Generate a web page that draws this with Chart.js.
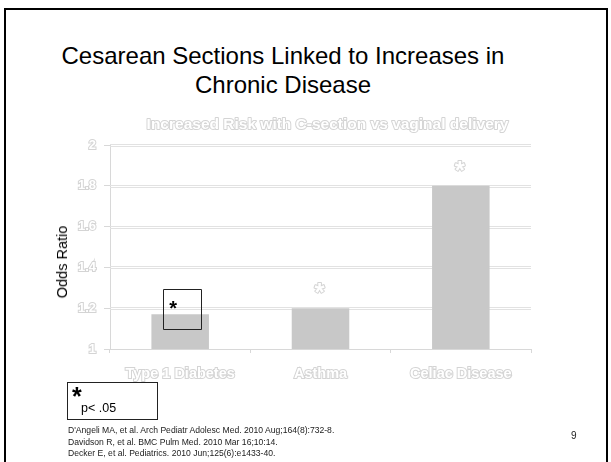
<!DOCTYPE html>
<html>
<head>
<meta charset="utf-8">
<script src="https://cdn.jsdelivr.net/npm/chart.js@4/dist/chart.umd.min.js"></script>
<style>
  html, body { margin: 0; padding: 0; background: #fff; }
  body { width: 611px; height: 462px; overflow: hidden; position: relative;
         font-family: "Liberation Sans", Arial, sans-serif; color: #000; }
  #frame { position: absolute; left: 4px; top: 8px; width: 600px; height: 470px;
           border: 2px solid #000; }
  #slideTitle { position: absolute; left: 33px; width: 500px; top: 41px; text-align: center;
                font-size: 24px; line-height: 29px; color: #000; }
  #chartWrap { position: absolute; left: 0; top: 0; width: 611px; height: 462px; }
  #yTitle { position: absolute; left: 62px; top: 262px; transform: translate(-50%, -50%) rotate(-90deg);
            font-size: 14.5px; font-weight: normal; color: #000; white-space: nowrap; }
  #note { position: absolute; left: 67px; top: 382px; width: 89px; height: 36px;
          border: 1px solid #222; }
  #note .star { position: absolute; left: 4px; top: 2px; font-size: 25px; line-height: 22px; font-weight: bold; }
  #note .p { position: absolute; left: 13px; top: 18px; font-size: 12.5px; line-height: 14px; }
  #refs { position: absolute; left: 68px; top: 425px; font-size: 8.6px; line-height: 11.5px; color: #222; }
  #pageNo { position: absolute; left: 571px; top: 430px; font-size: 10px; color: #222; }
</style>
</head>
<body>
<div id="frame"></div>
<div id="slideTitle">Cesarean Sections Linked to Increases in<br>Chronic Disease</div>
<div id="chartWrap"><canvas id="c" width="611" height="462"></canvas></div>
<div id="yTitle">Odds Ratio</div>
<div id="note"><span class="star">*</span><span class="p">p&lt; .05</span></div>
<div id="refs">
  D'Angeli MA, et al. Arch Pediatr Adolesc Med. 2010 Aug;164(8):732-8.<br>
  Davidson R, et al. BMC Pulm Med. 2010 Mar 16;10:14.<br>
  Decker E, et al. Pediatrics. 2010 Jun;125(6):e1433-40.
</div>
<div id="pageNo">9</div>

<script>
// Odds ratios for C-section vs vaginal delivery
const categories = ['Type 1 Diabetes', 'Asthma', 'Celiac Disease'];
const oddsRatios = [1.17, 1.2, 1.8];
// how each significance marker is shown: boxed black asterisk or faint star
const markerStyle = ['boxed', 'faint', 'faint'];
const yTickValues = [1, 1.2, 1.4, 1.6, 1.8, 2];
const chartTitle = 'Increased Risk with C-section vs vaginal delivery';

const ghostFill = '#ffffff';
const ghostStroke = '#d4d4d4';

const overlay = {
  id: 'overlay',
  beforeDatasetsDraw(chart) {
    const { ctx, chartArea, scales } = chart;
    ctx.save();
    // paired horizontal rules
    ctx.strokeStyle = '#e2e2e2';
    ctx.lineWidth = 1;
    yTickValues.forEach(v => {
      const y = Math.round(scales.y.getPixelForValue(v));
      if (v === yTickValues[0]) return;
      [y - 0.5, y + 1.5].forEach(yy => {
        ctx.beginPath();
        ctx.moveTo(chartArea.left, yy);
        ctx.lineTo(chartArea.right, yy);
        ctx.stroke();
      });
    });
    ctx.restore();
  },
  afterDatasetsDraw(chart) {
    const { ctx, chartArea } = chart;
    const meta = chart.getDatasetMeta(0);
    ctx.save();
    // chart heading
    ctx.font = 'bold 15.5px "Liberation Sans", Arial, sans-serif';
    ctx.textAlign = 'center';
    ctx.textBaseline = 'middle';
    ctx.lineJoin = 'round';
    ctx.lineWidth = 2;
    ctx.strokeStyle = ghostStroke;
    ctx.fillStyle = ghostFill;
    const cx = (chartArea.left + chartArea.right) / 2 + 7;
    ctx.strokeText(chartTitle, cx, chartArea.top - 20);
    ctx.fillText(chartTitle, cx, chartArea.top - 20);

    // significance markers
    meta.data.forEach((bar, i) => {
      const x = bar.x, top = bar.y;
      if (markerStyle[i] === 'boxed') {
        ctx.strokeStyle = '#222';
        ctx.lineWidth = 1;
        ctx.strokeRect(Math.round(x - 17) + 0.5, Math.round(top - 25) + 0.5, 38, 40);
        ctx.fillStyle = '#000';
        ctx.font = 'bold 20px "Liberation Sans", Arial, sans-serif';
        ctx.textAlign = 'center';
        ctx.textBaseline = 'middle';
        ctx.fillText('*', x - 7, top - 5);
      } else {
        ctx.font = 'bold 26px "Liberation Sans", Arial, sans-serif';
        ctx.textAlign = 'center';
        ctx.textBaseline = 'middle';
        ctx.lineWidth = 2;
        ctx.strokeStyle = ghostStroke;
        ctx.fillStyle = ghostFill;
        ctx.strokeText('*', x - 1, top - 14);
        ctx.fillText('*', x - 1, top - 14);
      }
    });
    ctx.restore();
  }
};

new Chart(document.getElementById('c'), {
  type: 'bar',
  data: {
    labels: categories,
    datasets: [{
      data: oddsRatios,
      backgroundColor: '#c8c8c8',
      borderWidth: 0,
      categoryPercentage: 1,
      barPercentage: 0.41
    }]
  },
  options: {
    responsive: false,
    animation: false,
    layout: { padding: { top: 145, right: 80, left: 0, bottom: 0 } },
    plugins: { legend: { display: false }, tooltip: { enabled: false }, title: { display: false } },
    scales: {
      x: {
        afterFit(scale) { scale.height = 113; },
        grid: { offset: true, drawOnChartArea: false, tickLength: 4, color: '#d8d8d8' },
        border: { color: '#d8d8d8', width: 1 },
        ticks: {
          padding: 12,
          color: ghostFill,
          textStrokeColor: ghostStroke,
          textStrokeWidth: 2,
          font: { family: '"Liberation Sans", Arial, sans-serif', size: 14.5, weight: 'bold' }
        }
      },
      y: {
        min: 1, max: 2,
        afterFit(scale) { scale.width = 110; },
        afterBuildTicks(scale) { scale.ticks = yTickValues.map(v => ({ value: v })); },
        grid: { drawOnChartArea: false, tickLength: 6, color: '#d8d8d8' },
        border: { color: '#d8d8d8', width: 1 },
        ticks: {
          padding: 8,
          color: ghostFill,
          textStrokeColor: ghostStroke,
          textStrokeWidth: 2,
          font: { family: '"Liberation Sans", Arial, sans-serif', size: 13, weight: 'bold' },
          callback: v => String(Math.round(v * 10) / 10)
        }
      }
    }
  },
  plugins: [overlay]
});
</script>
</body>
</html>
